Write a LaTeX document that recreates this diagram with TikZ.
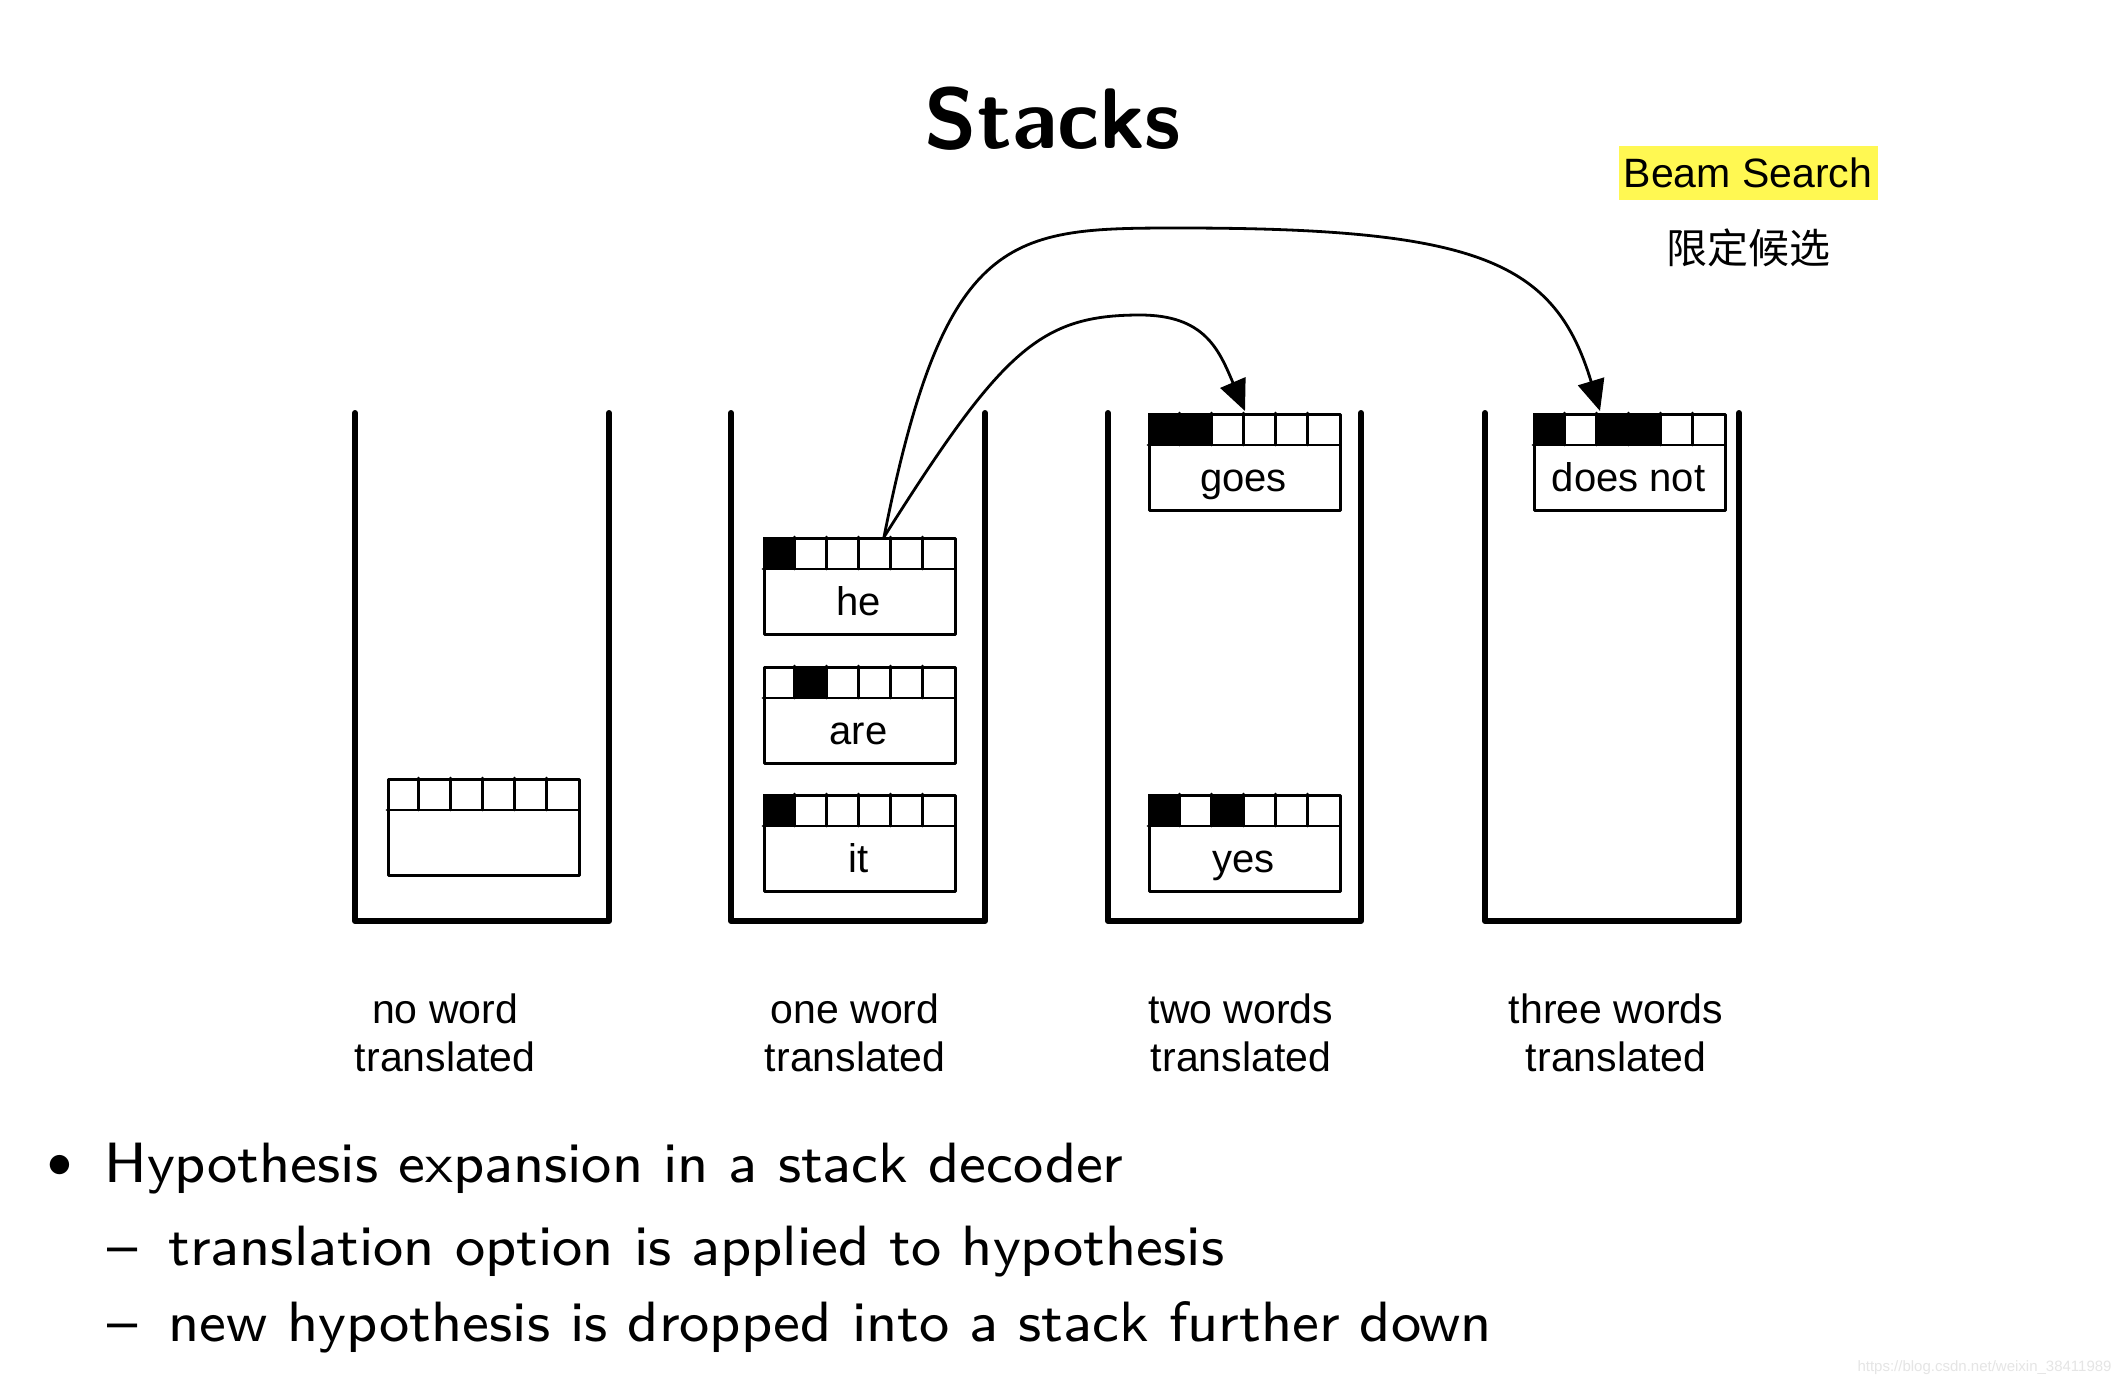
\documentclass[tikz,border=0pt]{standalone}
\usepackage{fontspec}
\setsansfont{Latin Modern Sans}
\newfontfamily\helv{Liberation Sans}
\newfontfamily\cjk{Noto Sans CJK SC}
\newfontfamily\bodyfont{lmsans8-regular.otf}
\usetikzlibrary{arrows.meta,calc}
\definecolor{beamyellow}{RGB}{255,248,82}
\tikzset{
  stackwall/.style={line width=3pt, line cap=round, line join=round},
  hypline/.style={line width=1.4pt, line cap=round},
  hypframe/.style={draw, line width=1.4pt, line join=round, minimum width=95.5pt, minimum height=48pt, inner sep=0pt},
  hyptext/.style={font=\helv\fontsize{20pt}{24pt}\selectfont, inner sep=0pt},
  stacklabel/.style={font=\helv\fontsize{20.5pt}{24pt}\selectfont, align=center, inner sep=0pt, anchor=north},
  arr/.style={line width=1.4pt, -{Triangle[length=15.5pt, width=13.5pt]}},
  bodytext/.style={font=\bodyfont\fontsize{28.4pt}{34pt}\selectfont, inner sep=0pt, anchor=base west}
}
\newcommand{\HypBox}[5]{%
  \foreach \idx in {#4}{\ifnum\idx>0 \fill ({#2+(\idx-1)*31.833},#3) rectangle ({#2+\idx*31.833},{#3+32});\fi}
  \foreach \idx in {1,...,5}{\draw[hypline] ({#2+\idx*31.833},#3) -- ({#2+\idx*31.833},{#3+32});}
  \draw[hypline] (#2,{#3+32}) -- ({#2+191},{#3+32});
  \node[hypframe, anchor=north west] (#1) at (#2,#3) {};
  \node[hyptext, anchor=base] (#1-t) at ({#2+95.5},{#3+78}) {#5};
}
\begin{document}
\begin{tikzpicture}[x=0.5pt, y=-0.5pt]
\path[use as bounding box, fill=white] (0,0) rectangle (2122,1388);

% title
\node[font=\sffamily\bfseries\fontsize{43pt}{50pt}\selectfont, inner sep=0pt, anchor=base] (title) at (1053,148) {Stacks};

% beam search note
\node[fill=beamyellow, minimum width=129.5pt, minimum height=27pt, inner sep=0pt, font=\helv\fontsize{20.5pt}{24pt}\selectfont] (beam) at (1748,173) {Beam Search};
\node[font=\cjk\fontsize{20.5pt}{24pt}\selectfont, inner sep=0pt] (beamcn) at (1748,248) {限定候选};

% stacks
\draw[stackwall] (355,413) -- (355,921) -- (609,921) -- (609,413);
\draw[stackwall] (731,413) -- (731,921) -- (985,921) -- (985,413);
\draw[stackwall] (1108,413) -- (1108,921) -- (1361,921) -- (1361,413);
\draw[stackwall] (1485,413) -- (1485,921) -- (1739,921) -- (1739,413);

% hypotheses
\HypBox{empty}{387}{778}{0}{}
\HypBox{he}{763}{537}{1}{he}
\HypBox{are}{763}{666}{2}{are}
\HypBox{it}{763}{794}{1}{it}
\HypBox{goes}{1148}{413}{1,2}{goes}
\HypBox{yes}{1148}{794}{1,3}{yes}
\HypBox{doesnot}{1533}{413}{1,3,4}{does not}

% arrows
\coordinate (src) at ($(he.north west)+(121,0)$);
\coordinate (goestip) at ($(goes.north west)+(97,-2)$);
\coordinate (dntip) at ($(doesnot.north west)+(67,-2)$);
\draw[arr] (src) .. controls (1002,350) and (1040,315) .. (1140,315)
                 .. controls (1205,315) and (1219,350) .. (goestip);
\draw[arr] (src) .. controls (945,230) and (1010,228) .. (1180,228)
                 .. controls (1480,228) and (1555,262) .. (dntip);

% stack labels
\node[stacklabel] (lab1) at (445,993) {no word\\translated};
\node[stacklabel] (lab2) at (855,993) {one word\\translated};
\node[stacklabel] (lab3) at (1241,993) {two words\\translated};
\node[stacklabel] (lab4) at (1616,993) {three words\\translated};

% bullet text
\node[font=\fontsize{29pt}{34pt}\selectfont, inner sep=0pt] (bul) at (60,1166) {$\bullet$};
\node[bodytext] (item1) at (104,1182) {Hypothesis expansion in a stack decoder};
\node[bodytext] (dash1) at (107,1265) {–};
\node[bodytext] (item2) at (168,1265) {translation option is applied to hypothesis};
\node[bodytext] (dash2) at (107,1341) {–};
\node[bodytext] (item3) at (168,1341) {new hypothesis is dropped into a stack further down};

% watermark
\node[font=\helv\fontsize{7.5pt}{9pt}\selectfont, text=black!10, inner sep=0pt, anchor=east] (wm) at (2112,1368) {https://blog.csdn.net/weixin\_38411989};
\end{tikzpicture}
\end{document}
